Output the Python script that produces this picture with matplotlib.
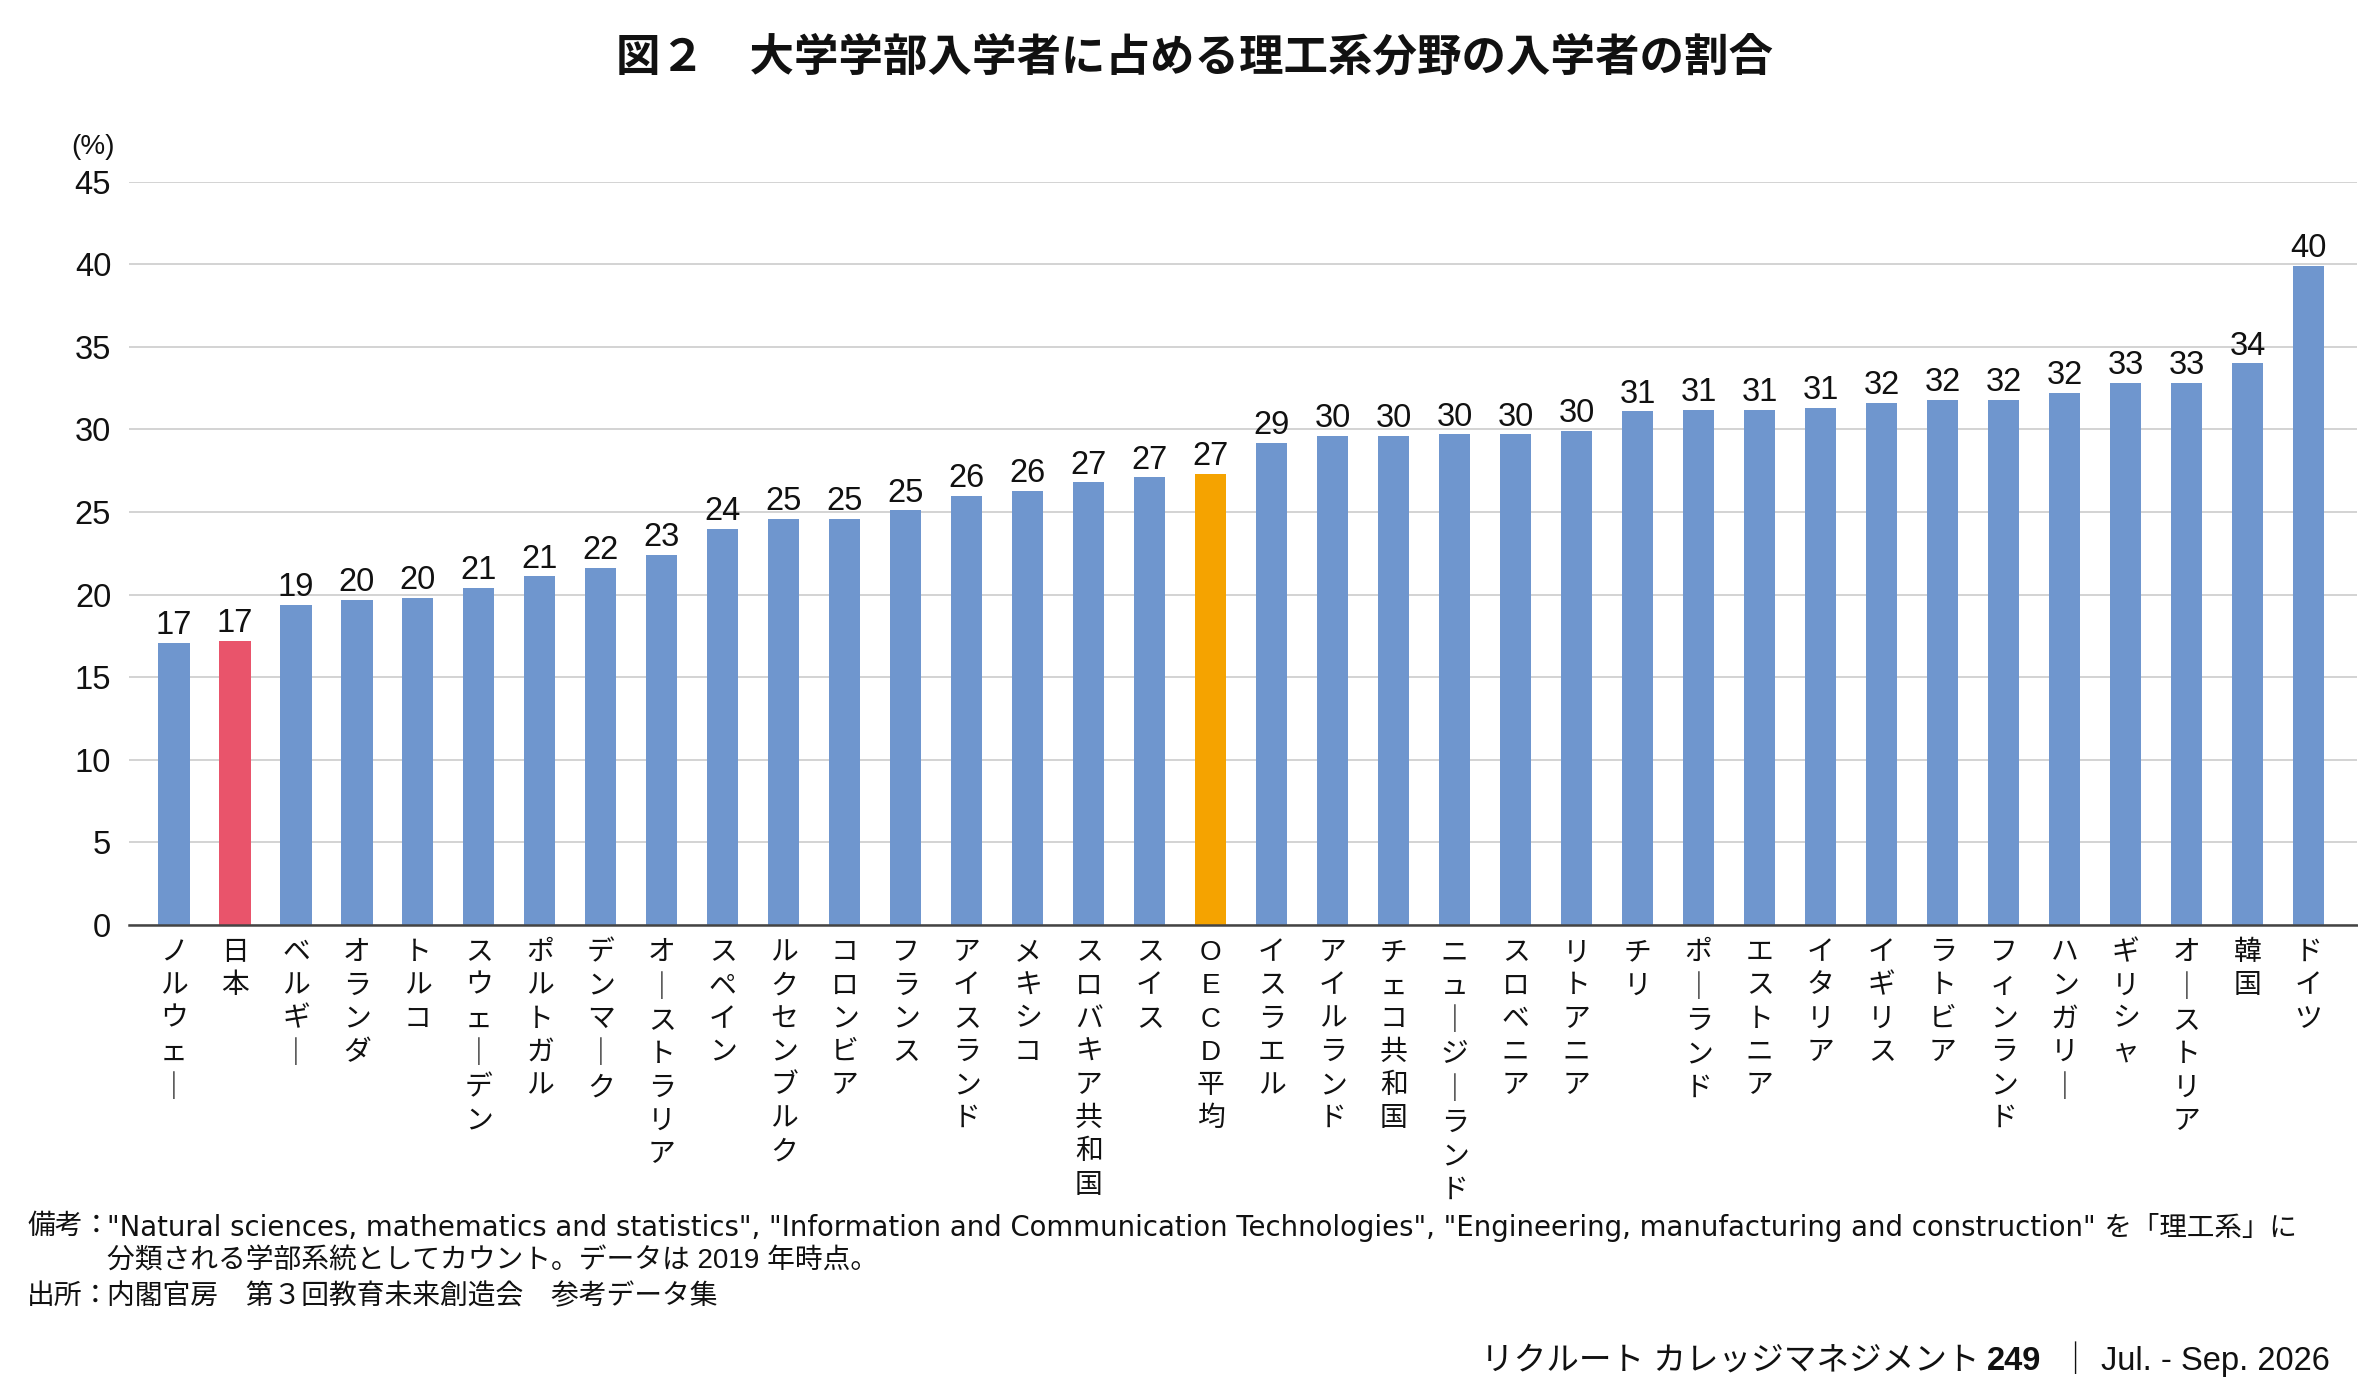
import matplotlib
matplotlib.use("Agg")
import matplotlib.pyplot as plt
from matplotlib.transforms import blended_transform_factory

FONT = ["Liberation Sans", "Noto Sans CJK JP", "DejaVu Sans"]
plt.rcParams["font.family"] = FONT

# ---------------- data ----------------
countries = ["ノルウェー", "日本", "ベルギー", "オランダ", "トルコ", "スウェーデン",
             "ポルトガル", "デンマーク", "オーストラリア", "スペイン", "ルクセンブルク",
             "コロンビア", "フランス", "アイスランド", "メキシコ", "スロバキア共和国",
             "スイス", "OECD平均", "イスラエル", "アイルランド", "チェコ共和国",
             "ニュージーランド", "スロベニア", "リトアニア", "チリ", "ポーランド",
             "エストニア", "イタリア", "イギリス", "ラトビア", "フィンランド",
             "ハンガリー", "ギリシャ", "オーストリア", "韓国", "ドイツ"]
values = [17.1, 17.2, 19.4, 19.7, 19.8, 20.4, 21.1, 21.6, 22.4, 24.0, 24.6, 24.6,
          25.1, 26.0, 26.3, 26.8, 27.1, 27.3, 29.2, 29.6, 29.6, 29.7, 29.7, 29.9,
          31.1, 31.2, 31.2, 31.3, 31.6, 31.8, 31.8, 32.2, 32.8, 32.8, 34.0, 39.9]
value_labels = [17, 17, 19, 20, 20, 21, 21, 22, 23, 24, 25, 25, 25, 26, 26, 27, 27, 27,
                29, 30, 30, 30, 30, 30, 31, 31, 31, 31, 32, 32, 32, 32, 33, 33, 34, 40]
yticks = [0, 5, 10, 15, 20, 25, 30, 35, 40, 45]

title = "図２　大学学部入学者に占める理工系分野の入学者の割合"
note_head = "備考："
note_line1 = ('"Natural sciences, mathematics and statistics", "Information and Communication '
              'Technologies", "Engineering, manufacturing and construction" を「理工系」に')
note_line2 = "分類される学部系統としてカウント。データは 2019 年時点。"
src_head = "出所："
src_line = "内閣官房　第３回教育未来創造会　参考データ集"
credit_1 = "リクルート カレッジマネジメント"
credit_2 = "249"
credit_3 = "  ｜ Jul. - Sep. 2026"

BLUE = "#6F96CE"
RED = "#E9546B"
ORANGE = "#F5A300"
colors = [RED if c == "日本" else ORANGE if c == "OECD平均" else BLUE for c in countries]

# ---------------- figure ----------------
W, H = 2358, 1397
fig = plt.figure(figsize=(W / 100, H / 100), dpi=100)
fx = lambda px: px / W
fy = lambda py: 1 - py / H

ax = fig.add_axes([fx(128.5), fy(925), fx(2357) - fx(128.5), fy(181.7) - fy(925)])
x = list(range(len(countries)))
ax.bar(x, values, width=0.51, color=colors, zorder=3)

ax.set_xlim(-0.746, 35.795)
ax.set_ylim(0, 45)
ax.set_yticks(yticks)
ax.set_yticklabels([str(v) for v in yticks])
ax.tick_params(axis="y", length=0, pad=12.5, labelsize=23.5, labelcolor="#111111")
ax.set_xticks([])
ax.yaxis.grid(True, color="#C8C8C8", linewidth=1.1, zorder=0)
for s in ["top", "right", "left"]:
    ax.spines[s].set_visible(False)
ax.spines["bottom"].set_color("#444444")
ax.spines["bottom"].set_linewidth(1.8)
ax.spines["bottom"].set_zorder(4)

# value labels
for xi, v, lab in zip(x, values, value_labels):
    ax.annotate(str(lab), (xi, v), xytext=(0, 6.3), textcoords="offset points",
                ha="center", va="baseline", fontsize=23.5, color="#111111")

# vertical category labels (ー drawn as a vertical stroke, as in vertical writing)
trans = blended_transform_factory(ax.transData, ax.transAxes)
for xi, c in zip(x, countries):
    vert = "\n".join("｜" if ch == "ー" else ch for ch in c)
    ax.annotate(vert, (xi, 0), xycoords=trans, xytext=(0, -11), textcoords="offset points",
                ha="center", va="top", fontsize=20, linespacing=1.36,
                multialignment="center", color="#111111", annotation_clip=False)

# (%)
fig.text(fx(71), fy(147), "(%)", fontsize=20, ha="left", va="center", color="#111111")

# title
fig.text(fx(1195), fy(58), title, fontsize=32, fontweight="bold", ha="center", va="center",
         family=["Noto Sans CJK JP"], color="#111111")

# notes
fs_note = 20
NOTE_FONT = ["DejaVu Sans", "Noto Sans CJK JP"]
fig.text(fx(27), fy(1227), note_head, fontsize=fs_note, ha="left", va="center", color="#111111")
fig.text(fx(107), fy(1227), note_line1, fontsize=19.8, ha="left", va="center",
         family=NOTE_FONT, color="#111111")
fig.text(fx(107), fy(1262), note_line2, fontsize=fs_note, ha="left", va="center", color="#111111")
fig.text(fx(27), fy(1297), src_head, fontsize=fs_note, ha="left", va="center", color="#111111")
fig.text(fx(107), fy(1297), src_line, fontsize=fs_note, ha="left", va="center", color="#111111")

# credit line (right aligned, composite)
renderer = fig.canvas.get_renderer()
fs_cr = 23.5
t3 = fig.text(fx(2330), fy(1370), credit_3, fontsize=fs_cr, ha="right", va="baseline", color="#111111")
bb3 = t3.get_window_extent(renderer)
t2 = fig.text(bb3.x0 / W, fy(1370), credit_2, fontsize=fs_cr, fontweight="bold", ha="right",
              va="baseline", color="#111111")
bb2 = t2.get_window_extent(renderer)
t1 = fig.text((bb2.x0 - 7) / W, fy(1370), credit_1, fontsize=fs_cr, ha="right", va="baseline",
              color="#111111")

fig.savefig("out.png", dpi=100)
